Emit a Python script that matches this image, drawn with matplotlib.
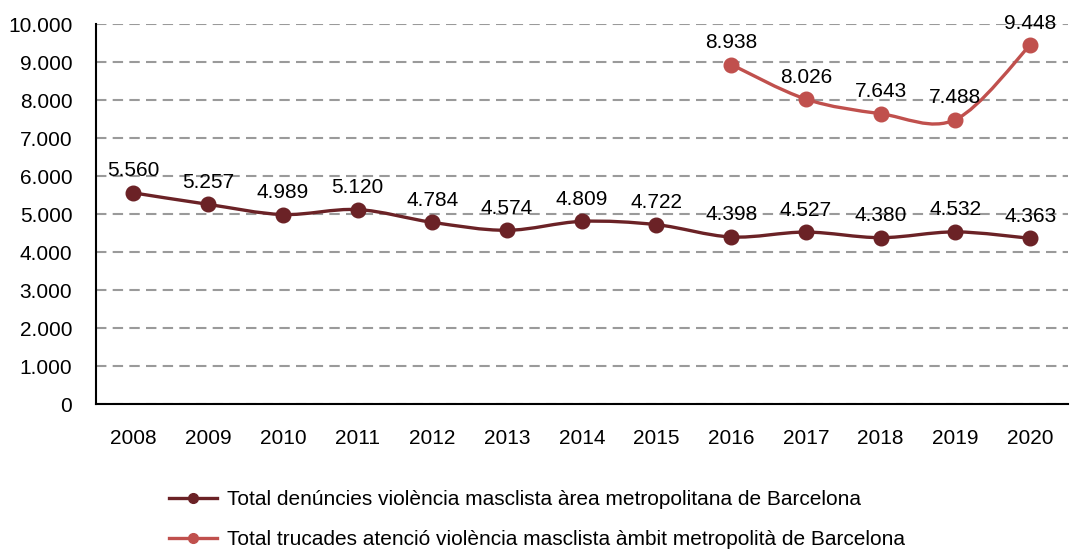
import matplotlib.pyplot as plt
from matplotlib.path import Path
from matplotlib.patches import PathPatch
from matplotlib.lines import Line2D
from matplotlib.ticker import FuncFormatter

plt.rcParams['font.family'] = ['Liberation Sans', 'DejaVu Sans']

years = ['2008', '2009', '2010', '2011', '2012', '2013', '2014',
         '2015', '2016', '2017', '2018', '2019', '2020']
denuncies = [5560, 5257, 4989, 5120, 4784, 4574, 4809, 4722, 4398, 4527, 4380, 4532, 4363]
trucades_years = ['2016', '2017', '2018', '2019', '2020']
trucades = [8938, 8026, 7643, 7488, 9448]

label_den = 'Total denúncies violència masclista àrea metropolitana de Barcelona'
label_tru = 'Total trucades atenció violència masclista àmbit metropolità de Barcelona'

c_den = '#6B2226'
c_tru = '#C0504D'


def fmt(v):
    return f'{int(v):,}'.replace(',', '.')


def smooth_path(xs, ys):
    # Excel-like smoothed line: cubic bezier, control points from neighbours
    verts = [(xs[0], ys[0])]
    codes = [Path.MOVETO]
    n = len(xs)
    for i in range(n - 1):
        x0, y0 = (xs[i - 1], ys[i - 1]) if i > 0 else (xs[i], ys[i])
        x1, y1 = xs[i], ys[i]
        x2, y2 = xs[i + 1], ys[i + 1]
        x3, y3 = (xs[i + 2], ys[i + 2]) if i + 2 < n else (x2, y2)
        c1 = (x1 + (x2 - x0) / 6, y1 + (y2 - y0) / 6)
        c2 = (x2 - (x3 - x1) / 6, y2 - (y3 - y1) / 6)
        verts += [c1, c2, (x2, y2)]
        codes += [Path.CURVE4] * 3
    return Path(verts, codes)


fig = plt.figure(figsize=(10.7, 5.49), dpi=100)
ax = fig.add_axes([0.0897, 0.264, 0.908, 0.692])

for yrs, vals, col in [(years, denuncies, c_den), (trucades_years, trucades, c_tru)]:
    xs = [years.index(y) for y in yrs]
    ax.add_patch(PathPatch(smooth_path(xs, vals), fill=False, edgecolor=col,
                           lw=2.4, zorder=3))
    ax.plot(xs, vals, 'o', color=col, ms=10.5, zorder=4)
    for x, v in zip(xs, vals):
        ax.annotate(fmt(v), (x, v), xytext=(0, 9), textcoords='offset points',
                    ha='center', va='bottom', fontsize=15, color='black', zorder=5)

ax.set_xlim(-0.5, len(years) - 0.5)
ax.set_ylim(0, 10000)
ax.set_xticks(range(len(years)))
ax.set_xticklabels(years)
ax.set_yticks(range(0, 10001, 1000))
ax.yaxis.set_major_formatter(FuncFormatter(lambda v, p: fmt(v)))
ax.tick_params(length=0, labelsize=15, colors='black')
ax.tick_params(axis='x', pad=18)
ax.tick_params(axis='y', pad=17)
ax.grid(axis='y', linestyle=(0, (5, 3)), color='#9A9A9A', lw=1.5)
ax.set_axisbelow(True)
for s in ['top', 'right']:
    ax.spines[s].set_visible(False)
for s in ['left', 'bottom']:
    ax.spines[s].set_color('black')
    ax.spines[s].set_linewidth(1.5)

handles = [Line2D([], [], color=c_den, lw=2.4, marker='o', ms=7),
           Line2D([], [], color=c_tru, lw=2.4, marker='o', ms=7)]
fig.legend(handles, [label_den, label_tru], loc='upper left',
           bbox_to_anchor=(0.150, 0.122), frameon=False, fontsize=15,
           handlelength=2.3, handletextpad=0.5, labelspacing=1.0,
           borderaxespad=0)

fig.savefig('out.png', dpi=100)
